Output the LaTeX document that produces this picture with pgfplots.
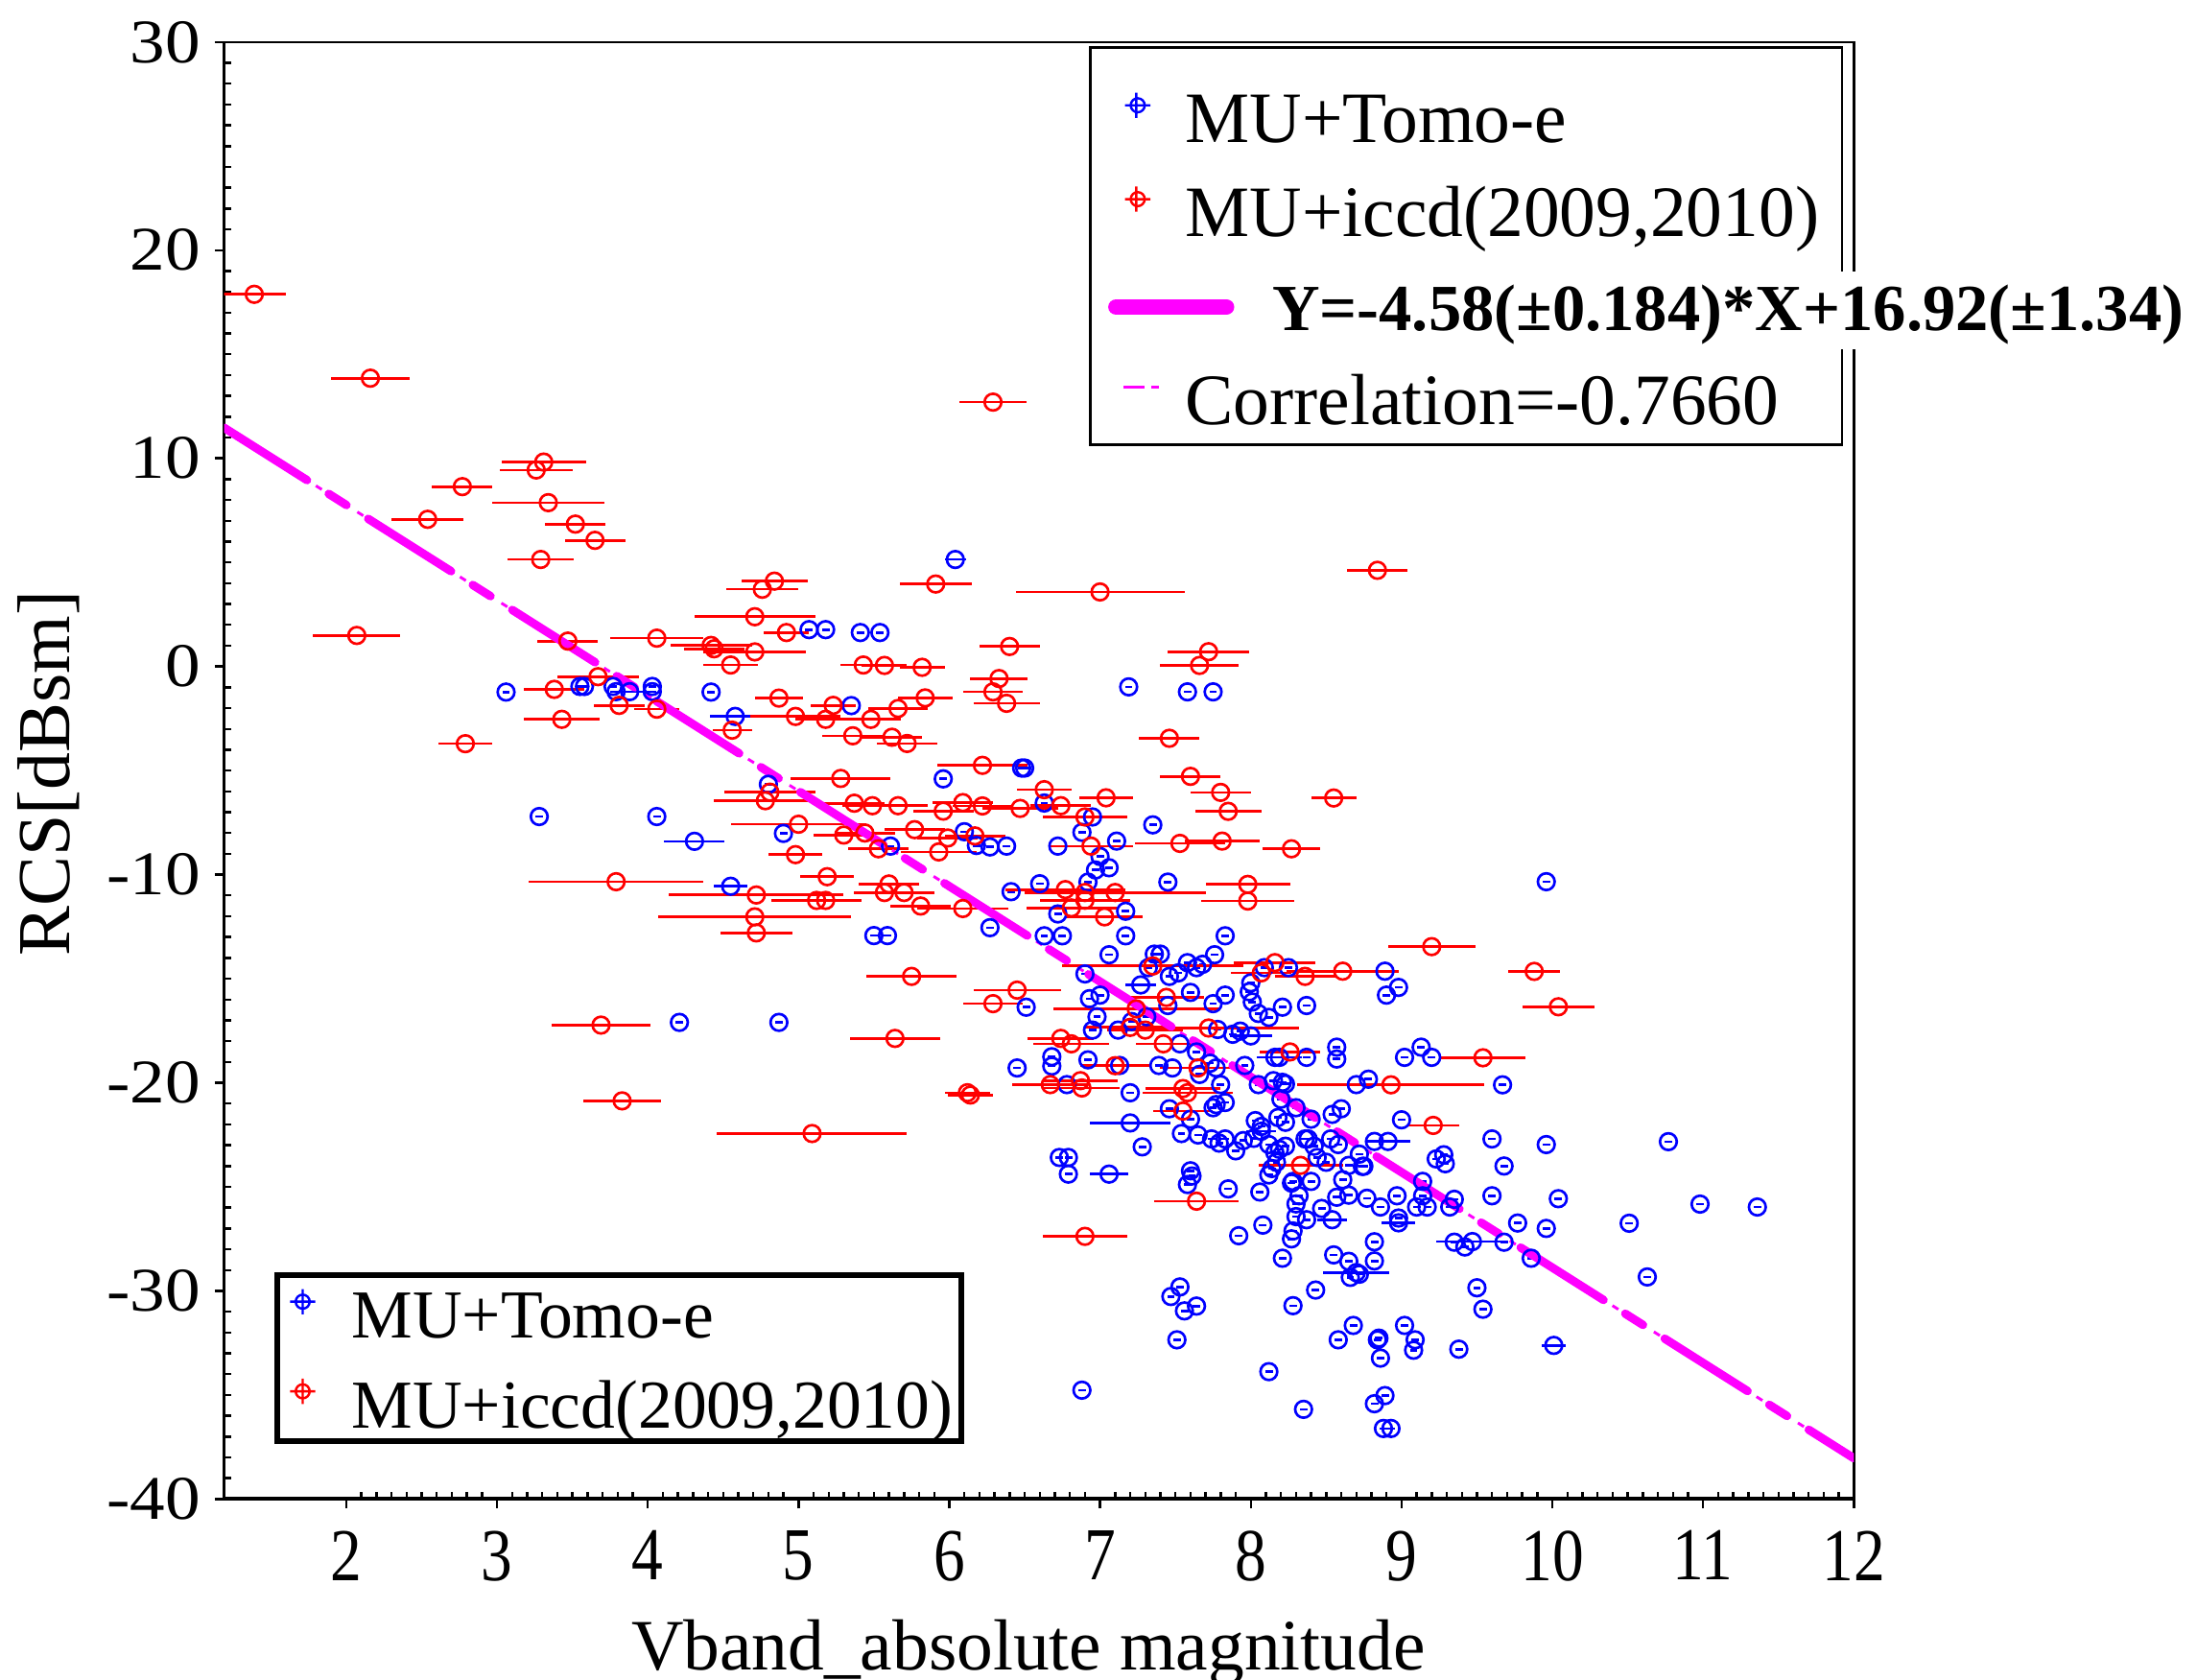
\documentclass[border=0pt]{standalone}
\usepackage{fontspec}
\setmainfont{Liberation Serif}
\usepackage{pgfplots}
\usepackage{pgfplotstable}
\pgfplotsset{compat=1.18}
\definecolor{mag}{RGB}{255,0,255}
\definecolor{pblue}{RGB}{0,0,255}
\definecolor{pred}{RGB}{255,0,0}

\pgfplotstableread{
x y ex
5.07 1.77 0.025
5.18 1.77 0.025
5.41 1.63 0.025
5.54 1.63 0.025
3.06 -1.23 0.025
3.55 -0.96 0.025
3.58 -0.96 0.025
3.77 -0.96 0.025
3.79 -1.21 0.025
3.88 -1.21 0.13
4.03 -0.96 0.025
4.03 -1.21 0.025
4.42 -1.23 0.025
4.58 -2.40 0.17
5.35 -1.88 0.025
3.28 -7.21 0.025
4.06 -7.21 0.025
4.31 -8.40 0.2
4.80 -5.66 0.025
4.90 -8.02 0.025
4.55 -10.56 0.11
4.21 -17.10 0.025
4.87 -17.10 0.025
5.50 -12.93 0.025
5.59 -12.93 0.025
6.04 5.14 0.07
5.96 -5.40 0.025
6.48 -4.88 0.025
6.50 -4.88 0.025
6.63 -6.56 0.025
6.95 -7.23 0.025
6.88 -7.97 0.025
7.35 -7.61 0.025
6.10 -7.94 0.025
6.18 -8.60 0.025
6.27 -8.67 0.025
6.38 -8.63 0.025
5.61 -8.63 0.025
6.72 -8.63 0.025
7.11 -8.39 0.025
7.00 -9.13 0.025
7.06 -9.67 0.025
6.97 -9.78 0.025
6.92 -10.36 0.025
7.45 -10.36 0.025
6.60 -10.44 0.025
6.41 -10.82 0.025
6.72 -11.89 0.025
7.17 -11.76 0.025
6.27 -12.55 0.025
6.63 -12.94 0.025
6.75 -12.94 0.025
7.17 -12.94 0.025
7.83 -12.94 0.025
7.06 -13.85 0.025
7.76 -13.85 0.025
7.36 -13.82 0.025
7.40 -13.82 0.025
6.90 -14.77 0.025
7.32 -14.47 0.025
7.58 -14.23 0.025
7.64 -14.47 0.025
7.68 -14.31 0.025
7.46 -14.89 0.025
7.52 -14.72 0.025
8.09 -14.47 0.025
8.25 -14.47 0.025
8.89 -14.64 0.025
8.90 -15.79 0.025
7.27 -15.30 0.1
7.60 -15.66 0.025
7.83 -15.79 0.025
6.93 -15.96 0.025
7.00 -15.79 0.025
7.99 -15.63 0.025
8.01 -16.12 0.025
7.75 -16.20 0.025
8.21 -16.37 0.025
8.37 -16.29 0.025
7.45 -16.29 0.025
6.51 -16.37 0.025
7.19 -0.98 0.025
7.58 -1.22 0.025
7.75 -1.22 0.025
8.98 -15.42 0.025
8.00 -15.20 0.025
8.05 -16.67 0.025
8.12 -16.86 0.025
6.98 -16.83 0.025
6.95 -17.47 0.025
7.12 -17.47 0.025
7.31 -16.83 0.025
7.21 -17.06 0.025
7.53 -18.13 0.025
7.64 -18.52 0.025
7.78 -17.44 0.025
7.88 -17.67 0.025
7.93 -17.52 0.025
8.00 -17.75 0.14
6.68 -18.75 0.025
6.68 -19.20 0.025
6.92 -18.90 0.025
6.45 -19.29 0.025
7.13 -19.17 0.025
7.39 -19.17 0.025
7.48 -19.29 0.025
7.73 -19.06 0.025
7.77 -19.29 0.025
7.66 -19.60 0.025
7.96 -19.17 0.025
8.16 -18.78 0.025
8.19 -18.78 0.15
8.37 -18.78 0.025
8.57 -18.29 0.025
8.57 -18.86 0.025
9.02 -18.78 0.025
9.13 -18.29 0.025
9.20 -18.78 0.025
6.78 -20.09 0.025
7.20 -20.48 0.025
7.80 -20.09 0.025
8.05 -20.09 0.025
8.15 -19.90 0.025
8.21 -19.98 0.025
8.23 -20.06 0.025
8.20 -20.79 0.025
8.70 -20.09 0.025
8.78 -19.83 0.025
7.46 -21.25 0.025
7.77 -21.05 0.025
7.83 -20.95 0.025
7.75 -21.20 0.025
7.60 -21.75 0.025
7.20 -21.93 0.27
7.28 -23.08 0.025
7.54 -22.44 0.025
7.65 -22.51 0.025
7.74 -22.70 0.025
7.79 -22.90 0.025
7.83 -22.70 0.025
7.90 -23.27 0.025
7.95 -22.78 0.025
8.02 -22.67 0.025
8.07 -22.33 0.1
8.03 -21.82 0.025
8.07 -22.10 0.025
8.12 -22.97 0.025
8.16 -23.36 0.025
8.19 -23.20 0.025
8.17 -23.82 0.025
8.14 -24.12 0.025
8.12 -24.43 0.025
8.23 -23.05 0.025
8.27 -24.82 0.025
8.18 -21.67 0.025
8.23 -21.90 0.025
8.30 -21.20 0.025
8.40 -21.75 0.025
8.36 -22.70 0.025
8.38 -22.70 0.025
8.42 -23.05 0.025
8.53 -22.70 0.025
8.58 -22.97 0.025
8.54 -21.52 0.025
8.60 -21.25 0.025
8.44 -23.59 0.025
8.50 -23.82 0.025
8.65 -23.97 0.025
8.75 -24.01 0.025
8.82 -22.82 0.025
8.91 -22.82 0.15
9.00 -21.78 0.025
8.72 -23.43 0.025
9.23 -23.66 0.025
8.28 -24.74 0.025
8.40 -24.74 0.025
8.32 -25.43 0.025
8.30 -25.82 0.025
8.30 -26.43 0.025
8.37 -26.58 0.025
8.47 -26.04 0.025
8.54 -26.58 0.1
8.57 -25.50 0.025
8.65 -25.40 0.025
8.77 -25.55 0.025
8.86 -25.97 0.025
8.97 -25.43 0.025
8.98 -26.50 0.025
8.98 -26.73 0.11
9.14 -25.43 0.025
9.14 -24.74 0.025
9.10 -25.97 0.025
9.17 -25.97 0.025
8.28 -27.12 0.025
8.27 -27.50 0.025
8.21 -28.43 0.025
8.08 -26.84 0.025
7.92 -27.35 0.025
7.85 -25.10 0.025
8.06 -25.25 0.025
8.43 -29.96 0.025
8.55 -28.27 0.025
8.65 -28.58 0.025
8.70 -29.12 0.22
8.66 -29.35 0.025
8.72 -29.20 0.025
8.82 -27.64 0.025
8.82 -28.56 0.025
8.28 -30.71 0.025
7.53 -29.81 0.025
7.47 -30.27 0.025
7.56 -30.96 0.025
7.64 -30.73 0.025
7.51 -32.35 0.025
8.68 -31.66 0.025
9.02 -31.66 0.025
8.58 -32.35 0.025
8.85 -32.27 0.025
8.84 -32.35 0.025
9.09 -32.35 0.025
6.79 -23.59 0.025
6.73 -23.59 0.025
6.79 -24.39 0.025
7.06 -24.39 0.13
7.60 -24.23 0.025
7.61 -24.48 0.025
7.58 -24.89 0.025
8.61 -24.66 0.025
8.74 -24.02 0.025
8.12 -33.88 0.025
6.88 -34.77 0.025
8.35 -35.69 0.025
8.82 -35.42 0.025
8.89 -35.03 0.025
8.88 -36.61 0.025
8.93 -36.61 0.025
8.86 -33.23 0.025
9.08 -32.85 0.025
9.38 -32.80 0.025
9.50 -29.85 0.025
9.54 -30.88 0.025
9.77 -26.74 0.025
9.68 -27.66 0.025
9.35 -27.66 0.025
9.42 -27.89 0.025
9.47 -27.63 0.24
9.60 -25.43 0.025
9.68 -24.00 0.025
9.60 -22.70 0.025
9.86 -28.43 0.025
9.28 -23.46 0.025
9.29 -23.89 0.025
9.67 -20.10 0.025
9.32 -25.97 0.025
9.35 -25.60 0.025
9.96 -10.34 0.025
9.96 -22.97 0.025
10.77 -22.83 0.025
10.04 -25.57 0.025
9.96 -27.00 0.025
10.51 -26.75 0.025
10.98 -25.83 0.025
11.36 -25.97 0.025
10.63 -29.33 0.025
10.01 -32.62 0.08
}\bluedata

\pgfplotstableread{
x y ex
1.39 17.88 0.21
2.16 13.85 0.26
6.29 12.70 0.22
3.31 9.82 0.28
3.26 9.44 0.24
2.77 8.64 0.20
2.54 7.07 0.24
3.34 7.87 0.37
3.52 6.84 0.20
3.65 6.06 0.20
3.29 5.14 0.22
4.84 4.10 0.22
4.76 3.71 0.24
5.91 3.96 0.24
7.00 3.58 0.56
8.84 4.62 0.20
4.71 2.39 0.40
4.92 1.63 0.15
2.07 1.49 0.29
3.47 1.22 0.20
4.06 1.36 0.31
4.42 1.01 0.27
4.44 0.85 0.20
4.71 0.70 0.34
6.40 0.96 0.20
7.72 0.71 0.27
7.66 0.05 0.26
4.55 0.07 0.18
5.43 0.07 0.15
5.57 0.05 0.15
5.82 -0.04 0.15
3.67 -0.49 0.27
6.33 -0.58 0.19
3.38 -1.10 0.20
6.29 -1.22 0.20
4.87 -1.52 0.16
5.23 -1.87 0.15
5.84 -1.51 0.18
6.38 -1.77 0.22
3.81 -1.87 0.17
4.06 -2.05 0.15
5.66 -2.02 0.20
4.98 -2.40 0.30
3.43 -2.54 0.25
5.18 -2.54 0.20
5.48 -2.54 0.20
4.56 -3.06 0.13
5.36 -3.33 0.20
5.62 -3.40 0.20
5.72 -3.70 0.20
2.79 -3.71 0.18
7.46 -3.45 0.20
6.22 -4.75 0.30
7.60 -5.28 0.20
5.28 -5.38 0.33
6.63 -5.92 0.18
4.81 -6.04 0.30
7.80 -6.05 0.20
7.04 -6.31 0.18
8.55 -6.32 0.15
4.78 -6.45 0.34
5.37 -6.57 0.20
5.49 -6.69 0.20
5.66 -6.69 0.20
6.09 -6.54 0.20
6.22 -6.70 0.20
6.74 -6.69 0.20
6.47 -6.82 0.25
5.96 -6.95 0.20
7.85 -6.96 0.22
6.90 -7.23 0.28
5.00 -7.58 0.45
5.77 -7.84 0.20
5.44 -8.00 0.20
5.30 -8.10 0.20
6.17 -8.14 0.20
5.99 -8.24 0.20
7.81 -8.39 0.25
7.53 -8.50 0.30
6.94 -8.63 0.28
5.53 -8.76 0.20
8.27 -8.76 0.19
5.93 -8.91 0.25
4.98 -9.04 0.18
5.19 -10.10 0.18
3.79 -10.34 0.58
5.60 -10.45 0.20
7.98 -10.47 0.28
6.77 -10.72 0.40
5.57 -10.86 0.20
5.70 -10.86 0.20
6.90 -10.86 0.30
7.10 -10.86 0.60
4.72 -10.98 0.58
5.12 -11.24 0.30
5.18 -11.24 0.20
6.90 -11.23 0.30
7.98 -11.27 0.31
5.81 -11.51 0.20
6.81 -11.60 0.30
6.09 -11.63 0.30
4.71 -12.03 0.64
7.03 -12.03 0.25
4.72 -12.80 0.24
9.20 -13.46 0.29
7.35 -14.39 0.60
8.16 -14.23 0.27
8.61 -14.64 0.37
9.88 -14.65 0.17
8.07 -14.72 0.20
5.75 -14.89 0.30
8.36 -14.89 0.20
6.45 -15.55 0.29
7.44 -15.90 0.25
6.29 -16.20 0.20
10.04 -16.35 0.24
7.24 -16.45 0.55
3.69 -17.23 0.33
7.20 -17.34 0.30
7.72 -17.37 0.60
7.30 -17.47 0.25
6.74 -17.87 0.22
5.64 -17.87 0.30
6.81 -18.13 0.25
7.42 -18.13 0.18
8.26 -18.52 0.20
9.54 -18.80 0.28
7.10 -19.18 0.23
7.65 -19.29 0.25
6.67 -20.09 0.25
8.93 -20.10 0.62
6.87 -19.90 0.25
6.88 -20.25 0.25
7.55 -20.28 0.25
7.58 -20.48 0.30
6.12 -20.48 0.15
6.14 -20.59 0.15
3.83 -20.87 0.26
7.55 -21.36 0.20
9.21 -22.05 0.17
5.09 -22.44 0.63
8.33 -23.97 0.28
7.64 -25.69 0.28
6.90 -27.38 0.28
}\reddata

\begin{document}
\begin{tikzpicture}
\useasboundingbox (-48pt,-38.7pt) rectangle (422.5pt,321pt);
\begin{axis}[
  at={(0,0)}, anchor=south west,
  scale only axis, width=349pt, height=312pt,
  xmin=1.19, xmax=12, ymin=-40, ymax=30,
  xtick={2,3,...,12}, xticklabels={2,3,4,5,6,7,8,9,10,11,12},
  ytick={-40,-30,...,30}, yticklabels={-40,-30,-20,-10,0,10,20,30},
  minor x tick num=9, minor y tick num=9,
  xtick pos=bottom, ytick pos=left,
  tick align=outside,
  major tick length=2pt, minor tick length=1.6pt,
  minor x tick style={yshift=1.6pt},
  minor y tick style={xshift=1.6pt},
  tick style={black, line width=0.5pt},
  axis line style={line width=0.5pt},
  xticklabel style={font=\fontsize{16}{16}\selectfont, xscale=0.84, inner sep=0pt, yshift=-4.6pt},
  yticklabel style={font=\fontsize{13.3}{13.3}\selectfont, xscale=1.13, inner sep=0pt, xshift=-2.5pt},
  xlabel={Vband\_absolute magnitude},
  ylabel={RCS[dBsm]},
  xlabel style={at={(axis description cs:0.4935,-0.117)}, anchor=base, font=\fontsize{15.5}{18}\selectfont},
  ylabel style={at={(axis description cs:-0.0946,0.498)}, anchor=base, font=\fontsize{16}{18}\selectfont},
  legend cell align=left,
  legend style={at={(rel axis cs:0.5305,0.997)}, anchor=north west,
    draw=black, line width=0.6pt, fill=white,
    inner xsep=4.9pt, inner ysep=4.3pt, row sep=4.1pt, column sep=4.9pt,
    font=\fontsize{15.5}{18}\selectfont,
    nodes={inner sep=0pt, text height=16pt, text depth=0pt}},
]
\addplot[forget plot, only marks, pblue, mark=o, mark size=1.8pt, mark options={line width=0.55pt},
  error bars/.cd, x dir=both, x explicit, error mark=none,
  error bar style={line width=0.55pt, pblue}]
  table[x=x, y=y, x error=ex] {\bluedata};
\addplot[forget plot, only marks, pred, mark=o, mark size=1.8pt, mark options={line width=0.55pt},
  error bars/.cd, x dir=both, x explicit, error mark=none,
  error bar style={line width=0.55pt, pred}]
  table[x=x, y=y, x error=ex] {\reddata};
\addplot[forget plot, mag, line width=0.6pt, dash pattern=on 0pt off 23.25pt on 1.5pt off 9pt on 1.5pt off 1.25pt]
  coordinates {(1.19,11.47) (12,-38.04)};
\addplot[forget plot, mag, line width=1.8pt, line cap=round, dash pattern=on 21pt off 5.5pt on 4.5pt off 5.5pt]
  coordinates {(1.19,11.47) (12,-38.04)};
\draw[line width=1.1pt] (rel axis cs:0,0) -- (rel axis cs:1,0);

\addlegendimage{legend image code/.code={\path (0,0) (10pt,0);
  \draw[pblue, line width=0.5pt] (5pt,0) circle[radius=1.5pt] (2.3pt,0) -- (7.7pt,0) (5pt,-2.7pt) -- (5pt,2.7pt);}}
\addlegendentry{MU+Tomo-e}
\addlegendimage{legend image code/.code={\path (0,0) (10pt,0);
  \draw[pred, line width=0.5pt] (5pt,0) circle[radius=1.5pt] (2.3pt,0) -- (7.7pt,0) (5pt,-2.7pt) -- (5pt,2.7pt);}}
\addlegendentry{MU+iccd(2009,2010)\hspace{2.5pt}}
\addlegendimage{legend image code/.code={\path (0,0) (10pt,0);
  \draw[mag, line width=3.4pt, line cap=round, overlay] (0.7pt,-3pt) -- (24.3pt,-3pt);}}
\addlegendentry{\hspace{18.6pt}\rlap{\setlength{\fboxsep}{0pt}\colorbox{white}{\rule[-4pt]{0pt}{16.5pt}\bfseries\fontsize{14.1}{17}\selectfont Y=-4.58(±0.184)*X+16.92(±1.34)}}}
\addlegendimage{legend image code/.code={\path (0,0) (10pt,0);
  \draw[mag, line width=0.6pt] (2pt,0) -- (6.5pt,0) (8pt,0) -- (9.5pt,0);}}
\addlegendentry{Correlation=-0.7660}
\end{axis}

\begin{axis}[
  at={(0,0)}, anchor=south west,
  scale only axis, width=349pt, height=312pt,
  hide axis, xmin=0, xmax=1, ymin=0, ymax=1,
  legend cell align=left,
  legend style={at={(rel axis cs:0.031,0.1558)}, anchor=north west,
    draw=black, line width=1.2pt, fill=white,
    inner xsep=1.8pt, inner ysep=2.8pt, row sep=8.4pt, column sep=6.9pt,
    font=\fontsize{14.7}{18}\selectfont,
    nodes={inner sep=0pt, text height=10.3pt, text depth=0pt}},
]
\addlegendimage{legend image code/.code={\path (0,0) (6pt,0);
  \draw[pblue, line width=0.5pt] (3pt,2.7pt) circle[radius=1.5pt] (0.3pt,2.7pt) -- (5.7pt,2.7pt) (3pt,0pt) -- (3pt,5.4pt);}}
\addlegendentry{MU+Tomo-e}
\addlegendimage{legend image code/.code={\path (0,0) (6pt,0);
  \draw[pred, line width=0.5pt] (3pt,2.7pt) circle[radius=1.5pt] (0.3pt,2.7pt) -- (5.7pt,2.7pt) (3pt,0pt) -- (3pt,5.4pt);}}
\addlegendentry{MU+iccd(2009,2010)}
\end{axis}
\end{tikzpicture}
\end{document}
